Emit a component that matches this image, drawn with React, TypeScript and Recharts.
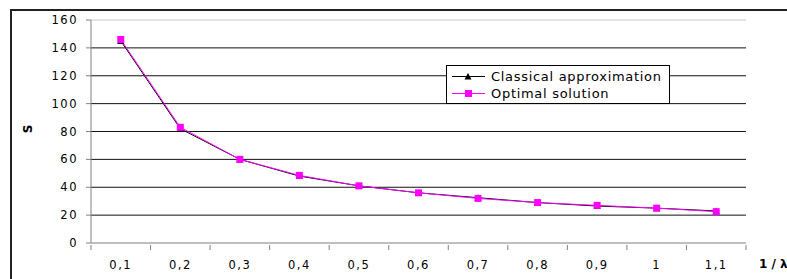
import { LineChart, Line, XAxis, YAxis, CartesianGrid, ReferenceLine } from 'recharts';

const categories = ['0,1', '0,2', '0,3', '0,4', '0,5', '0,6', '0,7', '0,8', '0,9', '1', '1,1'];
const classical = [145, 82, 60, 48, 41, 36, 32.5, 29, 26.5, 25, 23];
const optimal = [146, 83, 60, 48.5, 41, 36, 32, 29, 27, 25, 22.5];
const yTicks = [0, 20, 40, 60, 80, 100, 120, 140, 160];

const chartData = categories.map((x, i) => ({ x, classical: classical[i], optimal: optimal[i] }));

const tickFont = { fontFamily: 'DejaVu Sans', fontSize: 11.5, fill: '#000', letterSpacing: 1.5 };

// category ticks: label in the band centre, tick marks on the band edges
const CatTick = (props: any) => {
  const { x, y, payload, index, visibleTicksCount } = props;
  const half = payload.offset || 0;
  const last = index === visibleTicksCount - 1;
  return (
    <g>
      <line x1={x - half} x2={x - half} y1={y} y2={y + 5} stroke="#808080" />
      {last && <line x1={x + half} x2={x + half} y1={y} y2={y + 5} stroke="#808080" />}
      <text x={x} y={y + 20} textAnchor="middle" dominantBaseline="middle" {...tickFont}>{payload.value}</text>
    </g>
  );
};

const Triangle = (props: any) => {
  const { cx, cy, index } = props;
  return <path key={`t${index}`} d={`M${cx - 3.5},${cy + 3} L${cx + 3.5},${cy + 3} L${cx},${cy - 3.5} Z`} fill="#000" />;
};

const Square = (props: any) => {
  const { cx, cy, index } = props;
  return <rect key={`s${index}`} x={cx - 3.5} y={cy - 3.5} width={7} height={7} fill="#ff00ff" />;
};

function LegendBox() {
  const rows = [
    { name: 'Classical approximation', color: '#000', marker: 'tri' },
    { name: 'Optimal solution', color: '#ff00ff', marker: 'sq' },
  ];
  return (
    <div style={{ position: 'absolute', left: 446, top: 65, border: '1px solid #000', background: '#fff', width: 222, height: 37, boxSizing: 'content-box' }}>
      {rows.map((r, i) => (
        <div key={r.name} style={{ display: 'flex', alignItems: 'center', height: 17, marginTop: i === 0 ? 2 : 0 }}>
          <svg width={44} height={17} style={{ flex: 'none' }}>
            <line x1={5} x2={38} y1={8.5} y2={8.5} stroke={r.color} strokeWidth={1} />
            {r.marker === 'tri'
              ? <path d="M17.5,11.5 L24.5,11.5 L21,5 Z" fill={r.color} />
              : <rect x={18} y={5} width={7} height={7} fill={r.color} />}
          </svg>
          <span style={{ fontFamily: 'DejaVu Sans', fontSize: 13, letterSpacing: 0.7, color: '#000', whiteSpace: 'nowrap' }}>{r.name}</span>
        </div>
      ))}
    </div>
  );
}

export default function App() {
  return (
    <div style={{ position: 'fixed', left: 0, top: 0, width: 787, height: 279, overflow: 'hidden', background: '#fff' }}>
      <div style={{ position: 'absolute', left: 10, top: 9, width: 800, height: 300, borderLeft: '2px solid #222', borderTop: '2px solid #222' }} />
      <LineChart width={787} height={279} data={chartData} margin={{ top: 20, right: 41, bottom: 0, left: 0 }}>
        <CartesianGrid vertical={false} stroke="#111" horizontalValues={yTicks.filter((v) => v > 0 && v < 160)} />
        <ReferenceLine y={160} stroke="#c8c8c8" />
        <XAxis dataKey="x" scale="band" height={36} stroke="#808080" tickLine={false} tickSize={0} tick={<CatTick />} interval={0} />
        <YAxis domain={[0, 160]} ticks={yTicks} width={91} stroke="#808080" tickSize={5} tickMargin={8} tick={tickFont} interval={0} />
        <Line dataKey="classical" name="Classical approximation" stroke="#000" strokeWidth={1} dot={Triangle} isAnimationActive={false} />
        <Line dataKey="optimal" name="Optimal solution" stroke="#ff00ff" strokeWidth={1} dot={Square} isAnimationActive={false} />
      </LineChart>
      <LegendBox />
      <div style={{ position: 'absolute', left: 24, top: 122, fontFamily: 'DejaVu Sans', fontWeight: 'bold', fontSize: 12, transform: 'rotate(-90deg)' }}>S</div>
      <div style={{ position: 'absolute', left: 759, top: 257, fontFamily: 'DejaVu Sans', fontWeight: 'bold', fontSize: 12, whiteSpace: 'nowrap' }}>1 / λ</div>
    </div>
  );
}
